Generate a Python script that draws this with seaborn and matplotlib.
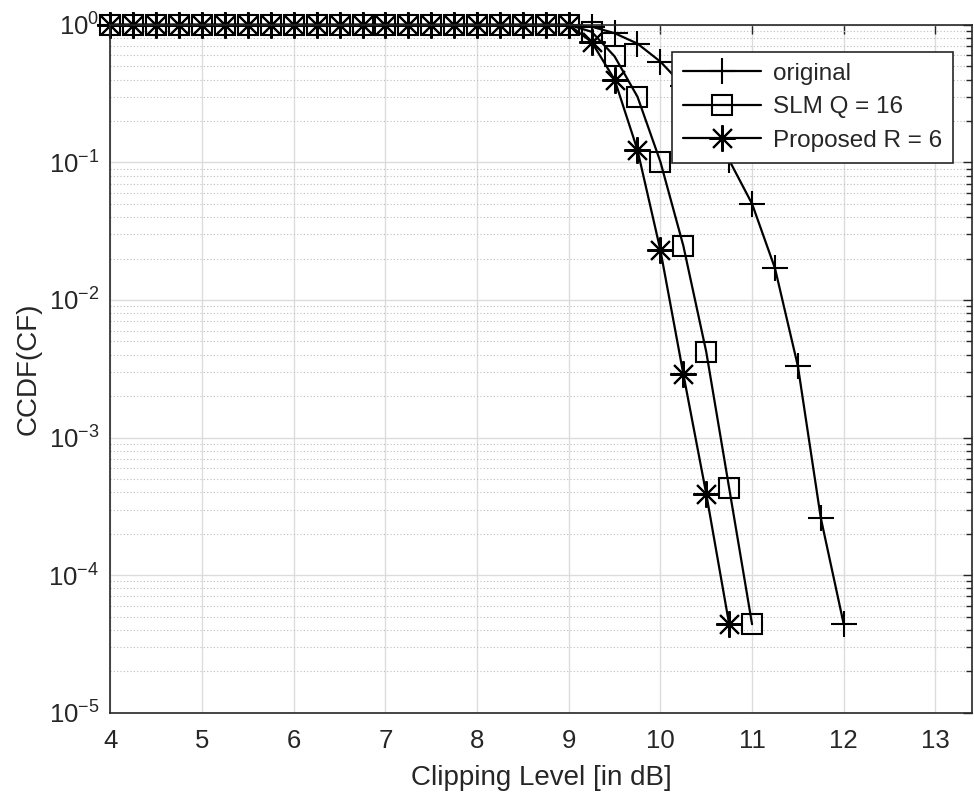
import numpy as np
import pandas as pd
import matplotlib
matplotlib.use("Agg")
import matplotlib.pyplot as plt
import seaborn as sns
from matplotlib.ticker import LogLocator, FixedLocator

# ---- data ----
x_orig = [4.0, 4.25, 4.5, 4.75, 5.0, 5.25, 5.5, 5.75, 6.0, 6.25, 6.5, 6.75, 7.0, 7.25,
          7.5, 7.75, 8.0, 8.25, 8.5, 8.75, 9.0, 9.25, 9.5, 9.75, 10.0, 10.25, 10.5,
          10.75, 11.0, 11.25, 11.5, 11.75, 12.0]
y_orig = [1.0, 1.0, 1.0, 1.0, 1.0, 1.0, 1.0, 1.0, 1.0, 1.0, 1.0, 1.0, 1.0, 1.0,
          1.0, 1.0, 1.0, 1.0, 1.0, 1.0, 1.0, 0.97, 0.87, 0.73, 0.54, 0.36, 0.21,
          0.104, 0.050, 0.017, 0.0033, 2.6e-4, 4.4e-5]

x_slm = [4.0, 4.25, 4.5, 4.75, 5.0, 5.25, 5.5, 5.75, 6.0, 6.25, 6.5, 6.75, 7.0, 7.25,
         7.5, 7.75, 8.0, 8.25, 8.5, 8.75, 9.0, 9.25, 9.5, 9.75, 10.0, 10.25, 10.5,
         10.75, 11.0]
y_slm = [1.0, 1.0, 1.0, 1.0, 1.0, 1.0, 1.0, 1.0, 1.0, 1.0, 1.0, 1.0, 1.0, 1.0,
         1.0, 1.0, 1.0, 1.0, 1.0, 1.0, 1.0, 0.89, 0.59, 0.30, 0.101, 0.0248, 0.0042,
         4.3e-4, 4.4e-5]

x_prop = [4.0, 4.25, 4.5, 4.75, 5.0, 5.25, 5.5, 5.75, 6.0, 6.25, 6.5, 6.75, 7.0, 7.25,
          7.5, 7.75, 8.0, 8.25, 8.5, 8.75, 9.0, 9.25, 9.5, 9.75, 10.0, 10.25, 10.5,
          10.75]
y_prop = [1.0, 1.0, 1.0, 1.0, 1.0, 1.0, 1.0, 1.0, 1.0, 1.0, 1.0, 1.0, 1.0, 1.0,
          1.0, 1.0, 1.0, 1.0, 1.0, 1.0, 1.0, 0.75, 0.40, 0.123, 0.023, 0.0029, 3.9e-4,
          4.4e-5]

labels = ["original", "SLM Q = 16", "Proposed R = 6"]
x_ticks = [4, 5, 6, 7, 8, 9, 10, 11, 12, 13]

# ---- style ----
sns.set_theme(style="white")
plt.rcParams["font.family"] = ["Liberation Sans", "DejaVu Sans"]
plt.rcParams["mathtext.default"] = "regular"
plt.rcParams["axes.unicode_minus"] = False

fig = plt.figure(figsize=(9.74, 7.96), dpi=100)
ax = fig.add_axes([0.1134, 0.1046, 0.8846, 0.8642])

series = [
    (x_orig, y_orig, labels[0], dict(marker="+", markersize=19, markeredgewidth=1.5)),
    (x_slm, y_slm, labels[1], dict(marker="s", markersize=15, markeredgewidth=1.5,
                                     markerfacecolor="none")),
    (x_prop, y_prop, labels[2], dict(marker=(8, 2, 0), markersize=19, markeredgewidth=1.5)),
]
for xs, ys, lab, mk in series:
    df = pd.DataFrame({"x": xs, "y": ys})
    sns.lineplot(data=df, x="x", y="y", ax=ax, color="black", linewidth=1.6,
                 markeredgecolor="black", label=lab, **mk)

for ln in ax.lines:
    ln.set_clip_on(False)

ax.set_yscale("log")
ax.set_xlim(4, 13.4)
ax.set_ylim(1e-5, 1)
ax.xaxis.set_major_locator(FixedLocator(x_ticks))
ax.yaxis.set_major_locator(LogLocator(base=10, numticks=10))
ax.yaxis.set_minor_locator(LogLocator(base=10, subs=np.arange(2, 10), numticks=20))

ax.grid(True, which="major", axis="both", color="#dcdcdc", linestyle="-", linewidth=1.0)
ax.grid(True, which="minor", axis="y", color="#bdbdbd", linestyle=(0, (1, 2)), linewidth=0.8)
ax.set_axisbelow(True)

ax.tick_params(axis="both", which="both", direction="in", colors="#262626",
               labelsize=18.5, top=True, right=True)
ax.tick_params(axis="both", which="major", length=6.5, width=1)
ax.tick_params(axis="y", which="minor", length=4, width=1)
ax.tick_params(axis="x", which="major", pad=12)
ax.tick_params(axis="y", which="major", pad=8)
for sp in ax.spines.values():
    sp.set_color("#262626")
    sp.set_linewidth(1.2)

ax.set_xlabel("Clipping Level [in dB]", fontsize=20, color="#262626", labelpad=8)
ax.set_ylabel("CCDF(CF)", fontsize=20, color="#262626", labelpad=5)

leg = ax.legend(loc="upper right", bbox_to_anchor=(0.978, 0.9605), fontsize=17.5,
                frameon=True, fancybox=False, edgecolor="#262626", framealpha=1,
                handlelength=3.2, borderpad=0.45, labelspacing=0.47, handletextpad=0.5,
                borderaxespad=0)
leg.get_frame().set_linewidth(1.2)

fig.savefig("out.png", dpi=100)
